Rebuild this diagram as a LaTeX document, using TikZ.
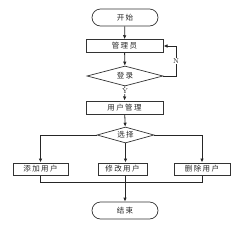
\documentclass[tikz,border=0pt]{standalone}
\usepackage{fontspec}
\newfontfamily\cjk[LetterSpace=18]{Noto Sans CJK SC}
\usetikzlibrary{arrows.meta,shapes.geometric,calc}
\begin{document}
\begin{tikzpicture}[x=1pt,y=-1pt,
  every node/.style={font=\cjk\fontsize{7.5}{8}\selectfont, inner sep=0pt, text=black!85},
  box/.style={draw=black!80, line width=1pt, minimum width=77pt, minimum height=12.5pt},
  smallbox/.style={draw=black!80, line width=1pt, minimum height=12pt},
  pill/.style={draw=black!80, line width=0.7pt, rounded corners=8.5pt, minimum width=66pt, minimum height=17pt},
  dia/.style={draw=black!80, line width=0.7pt, diamond, aspect=3.8, inner sep=0pt},
  arr/.style={line width=0.8pt, draw=black!85, -{Latex[length=4pt,width=3.5pt]}},
  ln/.style={line width=0.8pt, draw=black!85},
  lab/.style={font=\rmfamily\fontsize{7}{8}\selectfont, fill=white, inner sep=0.6pt}]
\useasboundingbox (0,0) rectangle (249,228);
\node[pill] (start) at (125,17.5) {开始};
\node[box] (admin) at (124.5,46) {管理员};
\node[dia, minimum width=76pt, minimum height=20pt] (login) at (125,76) {登录};
\node[box, minimum height=13pt] (um) at (124.5,107.5) {用户管理};
\node[dia, minimum width=57pt, minimum height=16pt] (sel) at (125.5,135) {选择};
\node[smallbox, minimum width=55pt] (add) at (40.5,169) {添加用户};
\node[smallbox, minimum width=49pt] (mod) at (122.5,169) {修改用户};
\node[smallbox, minimum width=56pt] (del) at (202,169) {删除用户};
\node[pill] (end) at (125,210.5) {结束};
\coordinate (nr) at (176,76);
\coordinate (join) at (125,182);
\draw[arr] (start) -- (admin);
\draw[arr] (admin) -- (login);
\draw[arr] (login.east) -- (nr) |- (admin.east);
\node[lab] (n) at (176,61) {N};
\draw[arr] (login) -- (um);
\node[lab] (y) at (125,91) {Y};
\draw[arr] (um) -- (sel);
\draw[arr] (sel.west) -| (add.north);
\draw[arr] (sel.east) -| (del.north);
\draw[arr] (sel.south) -- (sel.south |- mod.north);
\draw[ln] (add.south) |- (join);
\draw[ln] (del.south) |- (join);
\draw[arr] (join |- mod.south) -- (end);
\end{tikzpicture}
\end{document}
